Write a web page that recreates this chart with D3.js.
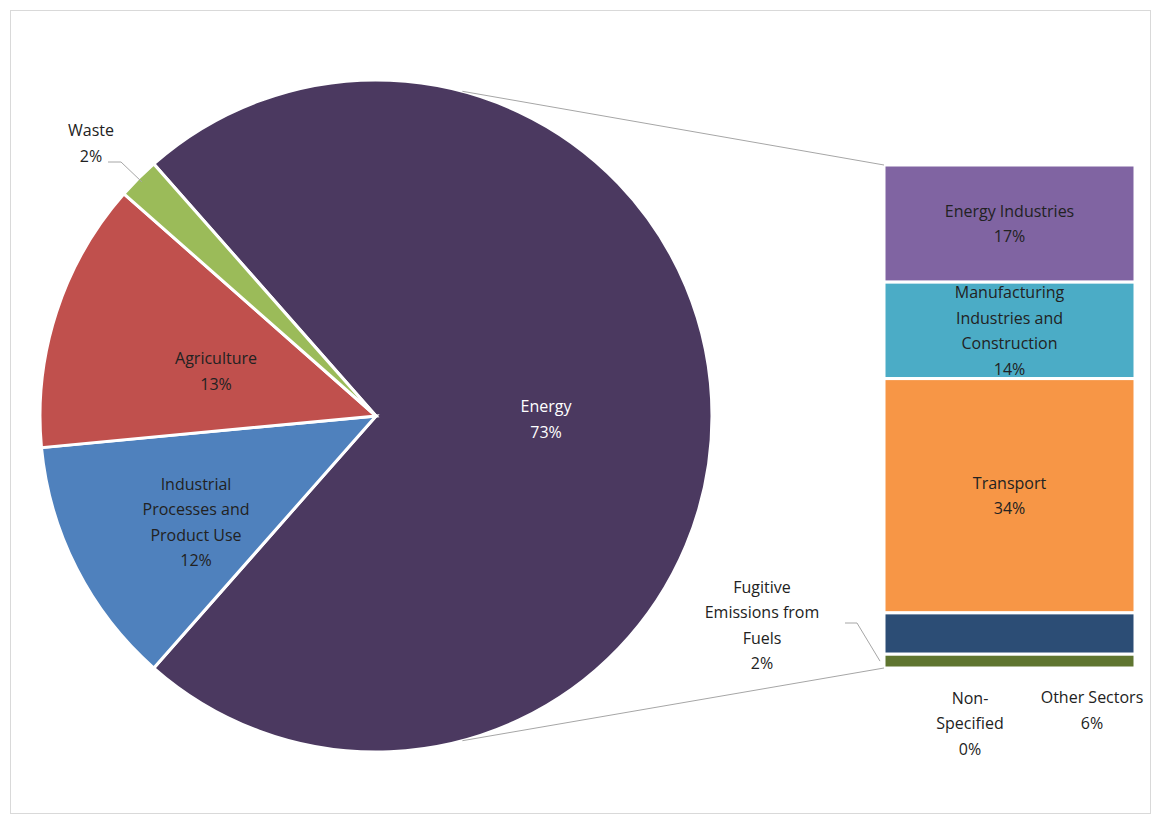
<!DOCTYPE html>
<html><head><meta charset="utf-8">
<script src="https://cdn.jsdelivr.net/npm/d3@7"></script>
<style>body{margin:0;background:#fff}text{font-family:"Open Sans","Liberation Sans",sans-serif;font-size:16px;fill:#222}</style>
</head><body>
<script>
const pieCats = ["Energy", "Industrial Processes and Product Use", "Agriculture", "Waste"];
const pieVals = [73, 12, 13, 2];
const pieColors = ["#4B3960", "#4F81BD", "#C0504D", "#9BBB59"];
const barCats = ["Energy Industries", "Manufacturing Industries and Construction", "Transport", "Other Sectors", "Non-Specified", "Fugitive Emissions from Fuels"];
const barVals = [17, 14, 34, 6, 0, 2];
const barColors = ["#8064A2", "#4BACC6", "#F79646", "#2C4D75", "#4B3960", "#5F7530"];

const width = 1155, height = 814;
const svg = d3.select('body').append('svg').attr('width', width).attr('height', height);
svg.append('rect').attr('x', 10.5).attr('y', 10.5).attr('width', 1140).attr('height', 803).attr('fill', 'none').attr('stroke', '#d9d9d9');

const cx = 376, cy = 416, r = 336;
const g = svg.append('g').attr('transform', `translate(${cx},${cy})`);
const energyAng = pieVals[0] / d3.sum(pieVals) * 2 * Math.PI;
const start = Math.PI / 2 - energyAng / 2;
const pie = d3.pie().sort(null).startAngle(start).endAngle(start + 2 * Math.PI);
const arcs = pie(pieVals);
const arc = d3.arc().innerRadius(0).outerRadius(r);
g.selectAll('path').data(arcs).join('path').attr('d', arc)
  .attr('fill', (d, i) => pieColors[i]).attr('stroke', '#fff').attr('stroke-width', 3);

// pie labels
const pieLab = [
  {lines: ["Energy", "73%"], x: 170, y: 3},
  {lines: ["Industrial", "Processes and", "Product Use", "12%"], x: -180, y: 106},
  {lines: ["Agriculture", "13%"], x: -160, y: -45},
  {lines: ["Waste", "2%"], x: -285, y: -273}
];
pieLab.forEach((p, i) => {
  const t = g.append('text').attr('text-anchor', 'middle');
  p.lines.forEach((l, j) => t.append('tspan').attr('x', p.x).attr('y', p.y + (j - (p.lines.length - 1) / 2) * 25.5 + 6).text(l));
});
g.select('text').selectAll('tspan').style('fill', '#fff');
// waste leader
const wa = arcs[3], wm = (wa.startAngle + wa.endAngle) / 2;
g.append('polyline').attr('fill', 'none').attr('stroke', '#a6a6a6')
  .attr('points', [[-268, -254], [-255, -254], [Math.sin(wm) * (r - 5), -Math.cos(wm) * (r - 5)]].join(' '));

// bar of pie
const bx = 884, bw = 251, by0 = 165, by1 = 668;
const y = d3.scaleLinear().domain([0, d3.sum(barVals)]).range([by0, by1]);
const cum = barVals.map((v, i) => d3.sum(barVals.slice(0, i)));
svg.selectAll('rect.b').data(barVals).join('rect').attr('class', 'b')
  .attr('x', bx).attr('width', bw)
  .attr('y', (d, i) => y(cum[i]))
  .attr('height', d => Math.max(0, y(d) - y(0)))
  .attr('fill', (d, i) => barColors[i]).attr('stroke', '#fff').attr('stroke-width', 3);

const pct = v => v + "%";
const barLab = [
  {lines: ["Energy Industries", pct(barVals[0])], x: bx + bw / 2, y: y(cum[0] + barVals[0] / 2)},
  {lines: ["Manufacturing", "Industries and", "Construction", pct(barVals[1])], x: bx + bw / 2, y: y(cum[1] + barVals[1] / 2)},
  {lines: ["Transport", pct(barVals[2])], x: bx + bw / 2, y: y(cum[2] + barVals[2] / 2)},
  {lines: ["Other Sectors", pct(barVals[3])], x: 1092, y: 710},
  {lines: ["Non-", "Specified", pct(barVals[4])], x: 970, y: 723},
  {lines: ["Fugitive", "Emissions from", "Fuels", pct(barVals[5])], x: 762, y: 625}
];
barLab.forEach(p => {
  const t = svg.append('text').attr('text-anchor', 'middle');
  p.lines.forEach((l, j) => t.append('tspan').attr('x', p.x).attr('y', p.y + (j - (p.lines.length - 1) / 2) * 25.5 + 6).text(l));
});
svg.append('polyline').attr('fill', 'none').attr('stroke', '#a6a6a6')
  .attr('points', [[845, 623], [857, 623], [880, y(cum[5] + barVals[5] / 2)]].join(' '));

// connector lines
svg.append('line').attr('stroke', '#a6a6a6').attr('x1', cx + Math.sin(0.26) * r).attr('y1', cy - Math.cos(0.26) * r).attr('x2', bx).attr('y2', by0);
svg.append('line').attr('stroke', '#a6a6a6').attr('x1', cx + Math.sin(Math.PI - 0.26) * r).attr('y1', cy - Math.cos(Math.PI - 0.26) * r).attr('x2', bx).attr('y2', by1);
</script>
</body></html>
